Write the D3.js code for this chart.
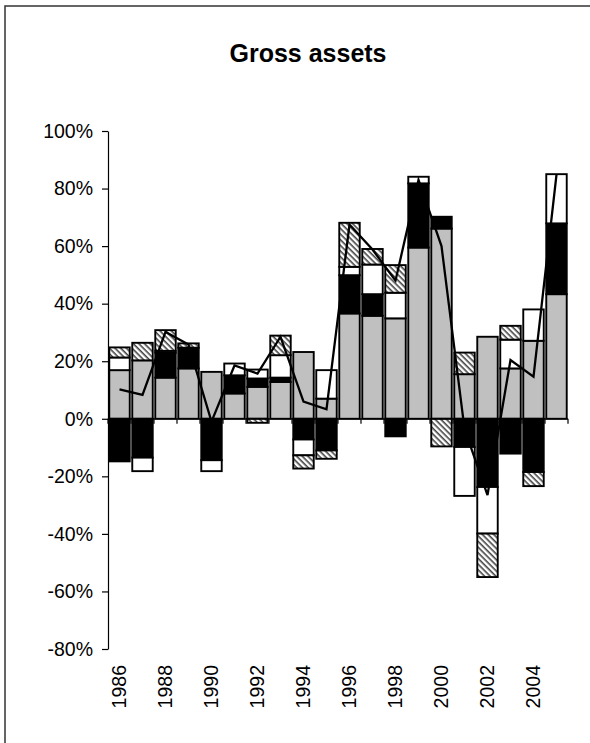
<!DOCTYPE html>
<html>
<head>
<meta charset="utf-8">
<script src="https://cdn.jsdelivr.net/npm/d3@7"></script>
<style>
  body { margin: 0; background: #fff; }
  svg { display: block; font-family: Arial, "Liberation Sans", sans-serif; }
</style>
</head>
<body>
<div id="chart"></div>
<script>
// data (percent)
var years = ['1986','1987','1988','1989','1990','1991','1992','1993','1994','1995',
             '1996','1997','1998','1999','2000','2001','2002','2003','2004','2005'];
var grayVals  = [16.9, 20.3, 14.3, 17.5, 16.3, 8.8, 11.1, 12.8, 23.2, 7.0,
                 36.6, 35.8, 34.9, 59.5, 66.1, 15.5, 28.5, 17.5, 27.1, 43.3];
var blackVals = [-14.8, -13.5, 8.6, 7.2, -14.4, 6.3, 2.9, 1.5, -7.2, -11.0,
                 13.3, 7.5, -6.1, 22.3, 4.1, -9.8, -23.7, -12.1, -18.5, 24.6];
var whiteVals = [4.4, -4.7, 0.7, 0, -3.8, 4.1, 3.1, 7.8, -5.5, 9.9,
                 2.9, 10.3, 8.9, 2.3, 0, -17.0, -16.2, 10.0, 10.9, 17.1];
var hatchVals = [3.5, 6.1, 7.2, 1.5, 0, 0, -1.4, 6.8, -4.6, -2.9,
                 15.3, 5.4, 9.6, 0, -9.6, 7.5, -15.1, 4.8, -4.9, 0];
var lineVals  = [10.2, 8.3, 30.2, 25.8, -1.0, 18.5, 15.7, 28.5, 6.0, 3.3,
                 67.5, 58.8, 48.0, 83.0, 60.0, -3.5, -26.5, 20.4, 14.6, 84.8];
var yTicks = [-80, -60, -40, -20, 0, 20, 40, 60, 80, 100];

var W = 590, H = 743;
var keys = ['gray', 'black', 'white', 'hatch'];
var fills = { gray: '#c0c0c0', black: '#000', white: '#fff', hatch: 'url(#hatch)' };

var table = years.map(function(y, i) {
  return { year: y, gray: grayVals[i], black: blackVals[i], white: whiteVals[i], hatch: hatchVals[i] };
});

var svg = d3.select('#chart').append('svg').attr('width', W).attr('height', H);

var pat = svg.append('defs').append('pattern')
  .attr('id', 'hatch')
  .attr('patternUnits', 'userSpaceOnUse')
  .attr('width', 4).attr('height', 4)
  .attr('patternTransform', 'rotate(45)');
pat.append('rect').attr('width', 4).attr('height', 4).attr('fill', '#fff');
pat.append('rect').attr('width', 4).attr('height', 1.6).attr('fill', '#444');

// outer frame (runs off the right/bottom edge)
svg.append('rect')
  .attr('x', 5).attr('y', 6).attr('width', 620).attr('height', 760)
  .attr('fill', 'none').attr('stroke', '#333').attr('stroke-width', 1.5);

var x = d3.scaleBand().domain(years).range([108, 568]).paddingInner(0.11).paddingOuter(0.055);
var y = d3.scaleLinear().domain([-80, 100]).range([649, 131]);

var series = d3.stack().keys(keys).offset(d3.stackOffsetDiverging)(table);

svg.append('g').selectAll('g')
  .data(series)
  .join('g')
    .attr('fill', function(d) { return fills[d.key]; })
  .selectAll('rect')
  .data(function(d) { return d.filter(function(p) { return p[1] !== p[0]; }); })
  .join('rect')
    .attr('x', function(d) { return x(d.data.year); })
    .attr('width', x.bandwidth())
    .attr('y', function(d) { return y(Math.max(d[0], d[1])); })
    .attr('height', function(d) { return Math.abs(y(d[0]) - y(d[1])); })
    .attr('stroke', '#000')
    .attr('stroke-width', 1.9);

// y axis
var yAxis = svg.append('g')
  .attr('transform', 'translate(108,0)')
  .call(d3.axisLeft(y).tickValues(yTicks).tickSize(6).tickSizeOuter(0)
    .tickFormat(function(d) { return d + '%'; }));
yAxis.select('.domain').attr('stroke', '#000').attr('stroke-width', 1.2);
yAxis.selectAll('.tick line').attr('stroke', '#000').attr('stroke-width', 1.2);
yAxis.selectAll('.tick text')
  .attr('x', -15)
  .attr('fill', '#000')
  .style('font-size', '19.5px')
  .style('font-family', 'Arial, "Liberation Sans", sans-serif');

// x axis along zero with ticks between categories
var step = x.step();
var x0 = x.range()[0], x1 = x.range()[1];
var xAxis = svg.append('g');
xAxis.append('line')
  .attr('x1', x0).attr('x2', x1)
  .attr('y1', y(0)).attr('y2', y(0))
  .attr('stroke', '#000').attr('stroke-width', 1.2);
var bounds = years.map(function(d) { return x(d) - (step - x.bandwidth()) / 2; }).concat([x1]);
xAxis.selectAll('line.tk')
  .data(bounds)
  .join('line')
    .attr('class', 'tk')
    .attr('x1', function(d) { return d; }).attr('x2', function(d) { return d; })
    .attr('y1', y(0)).attr('y2', y(0) + 5)
    .attr('stroke', '#000').attr('stroke-width', 1.2);

xAxis.selectAll('text')
  .data(years.filter(function(d, i) { return i % 2 === 0; }))
  .join('text')
    .attr('transform', function(d) {
      return 'translate(' + (x(d) + x.bandwidth() / 2) + ',665) rotate(-90)';
    })
    .attr('text-anchor', 'end')
    .attr('dy', '0.35em')
    .style('font-size', '19.5px')
    .text(function(d) { return d; });

// net line
var line = d3.line()
  .x(function(d, i) { return x(years[i]) + x.bandwidth() / 2; })
  .y(function(d) { return y(d); });
svg.append('path')
  .datum(lineVals)
  .attr('d', line)
  .attr('fill', 'none')
  .attr('stroke', '#000')
  .attr('stroke-width', 2.3)
  .attr('stroke-linejoin', 'miter');

svg.append('text')
  .attr('x', 308).attr('y', 62)
  .attr('text-anchor', 'middle')
  .style('font-size', '25px')
  .style('font-weight', 'bold')
  .text('Gross assets');
</script>
</body>
</html>
